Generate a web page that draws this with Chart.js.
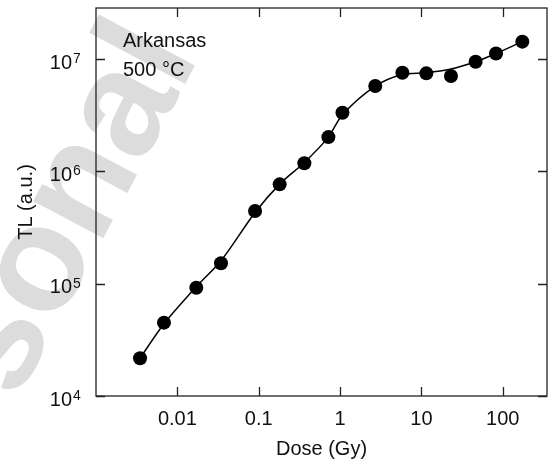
<!DOCTYPE html>
<html>
<head>
<meta charset="utf-8">
<title>TL vs Dose - Arkansas 500 °C</title>
<script src="https://cdn.jsdelivr.net/npm/chart.js@4.4.1/dist/chart.umd.min.js"></script>
<style>
  html, body { margin: 0; padding: 0; background: #ffffff; }
  #chart { display: block; }
</style>
</head>
<body>
<canvas id="chart" width="554" height="465"></canvas>
<script>
// --- 1. DATA ---
const doses = [0.00348, 0.00685, 0.0171, 0.0344, 0.0902, 0.181, 0.364, 0.719, 1.07, 2.71, 5.84, 11.5, 23.1, 46.4, 82.7, 174];
const tl = [2.17e4, 4.5e4, 9.2e4, 1.52e5, 4.44e5, 7.67e5, 1.18e6, 2.02e6, 3.33e6, 5.75e6, 7.55e6, 7.46e6, 7.06e6, 9.46e6, 1.12e7, 1.43e7];

// fitted curve as it is drawn in the figure
const fitDoses = [0.00348, 0.00685, 0.0171, 0.0344, 0.0902, 0.181, 0.364, 0.719, 1.07, 2.71, 5.84, 11.5, 23.1, 46.4, 82.7, 174];
const fitTL = [2.17e4, 4.4e4, 9.4e4, 1.6e5, 4.3e5, 7.7e5, 1.2e6, 2.02e6, 3.2e6, 5.75e6, 7.3e6, 7.55e6, 8.15e6, 9.46e6, 1.12e7, 1.43e7];

const xTicks = [0.01, 0.1, 1, 10, 100];
const xTickLabels = ['0.01', '0.1', '1', '10', '100'];
const yTicks = [1e4, 1e5, 1e6, 1e7];
const yExponents = ['4', '5', '6', '7'];

const sampleLabel = ['Arkansas', '500 °C'];
const watermark = 'sonal';

const FONT = "'Liberation Sans', Arial, Helvetica, sans-serif";
const INK = '#111111';

// --- 2. PLUGIN: frame, inward ticks, y labels with exponents, text ---
const framePlugin = {
    id: 'frame',
    beforeDraw(chart) {
        const ctx = chart.ctx;
        ctx.save();
        ctx.fillStyle = '#ffffff';
        ctx.fillRect(0, 0, chart.width, chart.height);
        // faint watermark behind everything
        ctx.translate(16, 402);
        ctx.rotate(-62 * Math.PI / 180);
        ctx.fillStyle = '#dcdcdc';
        ctx.font = 'bold 150px ' + FONT;
        ctx.textBaseline = 'alphabetic';
        ctx.fillText(watermark, 0, 0);
        ctx.restore();
    },
    afterDraw(chart) {
        const ctx = chart.ctx;
        const a = chart.chartArea;
        const xs = chart.scales.x;
        const ys = chart.scales.y;
        const tick = 9;

        ctx.save();
        ctx.strokeStyle = '#222222';
        ctx.lineWidth = 1.3;
        ctx.strokeRect(a.left, a.top, a.right - a.left, a.bottom - a.top);

        ctx.beginPath();
        xTicks.forEach(v => {
            const px = Math.round(xs.getPixelForValue(v)) + 0.5;
            ctx.moveTo(px, a.bottom); ctx.lineTo(px, a.bottom - tick);
            ctx.moveTo(px, a.top); ctx.lineTo(px, a.top + tick);
        });
        yTicks.forEach(v => {
            const py = Math.round(ys.getPixelForValue(v)) + 0.5;
            ctx.moveTo(a.left, py); ctx.lineTo(a.left + tick, py);
            ctx.moveTo(a.right, py); ctx.lineTo(a.right - tick, py);
        });
        ctx.stroke();

        // y tick labels: 10 with superscript exponent
        ctx.fillStyle = INK;
        yTicks.forEach((v, i) => {
            const py = ys.getPixelForValue(v);
            ctx.font = '20px ' + FONT;
            ctx.textAlign = 'right';
            ctx.textBaseline = 'alphabetic';
            ctx.fillText('10', 72, py + 9.5);
            ctx.font = '14px ' + FONT;
            ctx.textAlign = 'left';
            ctx.fillText(yExponents[i], 73, py + 4);
        });

        // sample label
        ctx.font = '20px ' + FONT;
        ctx.textAlign = 'left';
        ctx.fillText(sampleLabel[0], 123, 47);
        ctx.fillText(sampleLabel[1], 123, 76);
        ctx.restore();
    }
};

// --- 3. CHART ---
new Chart(document.getElementById('chart').getContext('2d'), {
    type: 'scatter',
    data: {
        datasets: [
            {
                label: 'TL',
                data: doses.map((d, i) => ({ x: d, y: tl[i] })),
                showLine: false,
                pointRadius: 7,
                pointHoverRadius: 7,
                pointBackgroundColor: '#000000',
                pointBorderColor: '#000000',
                pointBorderWidth: 0
            },
            {
                label: 'fit',
                data: fitDoses.map((d, i) => ({ x: d, y: fitTL[i] })),
                showLine: true,
                pointRadius: 0,
                borderColor: '#000000',
                borderWidth: 1.5,
                tension: 0.3,
                fill: false
            }
        ]
    },
    options: {
        responsive: false,
        animation: false,
        layout: { padding: { top: 8, right: 1, left: 0, bottom: 0 } },
        plugins: { legend: { display: false }, tooltip: { enabled: false } },
        scales: {
            x: {
                type: 'logarithmic',
                position: 'bottom',
                min: 0.001,
                max: 350,
                grid: { display: false, drawTicks: false },
                border: { display: false },
                afterBuildTicks: scale => { scale.ticks = xTicks.map(v => ({ value: v })); },
                afterFit: scale => { scale.height = 69; },
                ticks: {
                    autoSkip: false,
                    maxRotation: 0,
                    padding: 11,
                    color: INK,
                    font: { family: FONT, size: 20 },
                    callback: v => xTickLabels[xTicks.indexOf(v)]
                },
                title: {
                    display: true,
                    text: 'Dose (Gy)',
                    color: INK,
                    font: { family: FONT, size: 20 },
                    padding: { top: 0, bottom: 4 }
                }
            },
            y: {
                type: 'logarithmic',
                position: 'left',
                min: 1e4,
                max: 2.85e7,
                grid: { display: false, drawTicks: false },
                border: { display: false },
                afterBuildTicks: scale => { scale.ticks = yTicks.map(v => ({ value: v })); },
                afterFit: scale => { scale.width = 96; },
                ticks: { display: false },
                title: {
                    display: true,
                    text: 'TL (a.u.)',
                    color: INK,
                    font: { family: FONT, size: 20 },
                    padding: { top: 14, bottom: 0 }
                }
            }
        }
    },
    plugins: [framePlugin]
});
</script>
</body>
</html>
